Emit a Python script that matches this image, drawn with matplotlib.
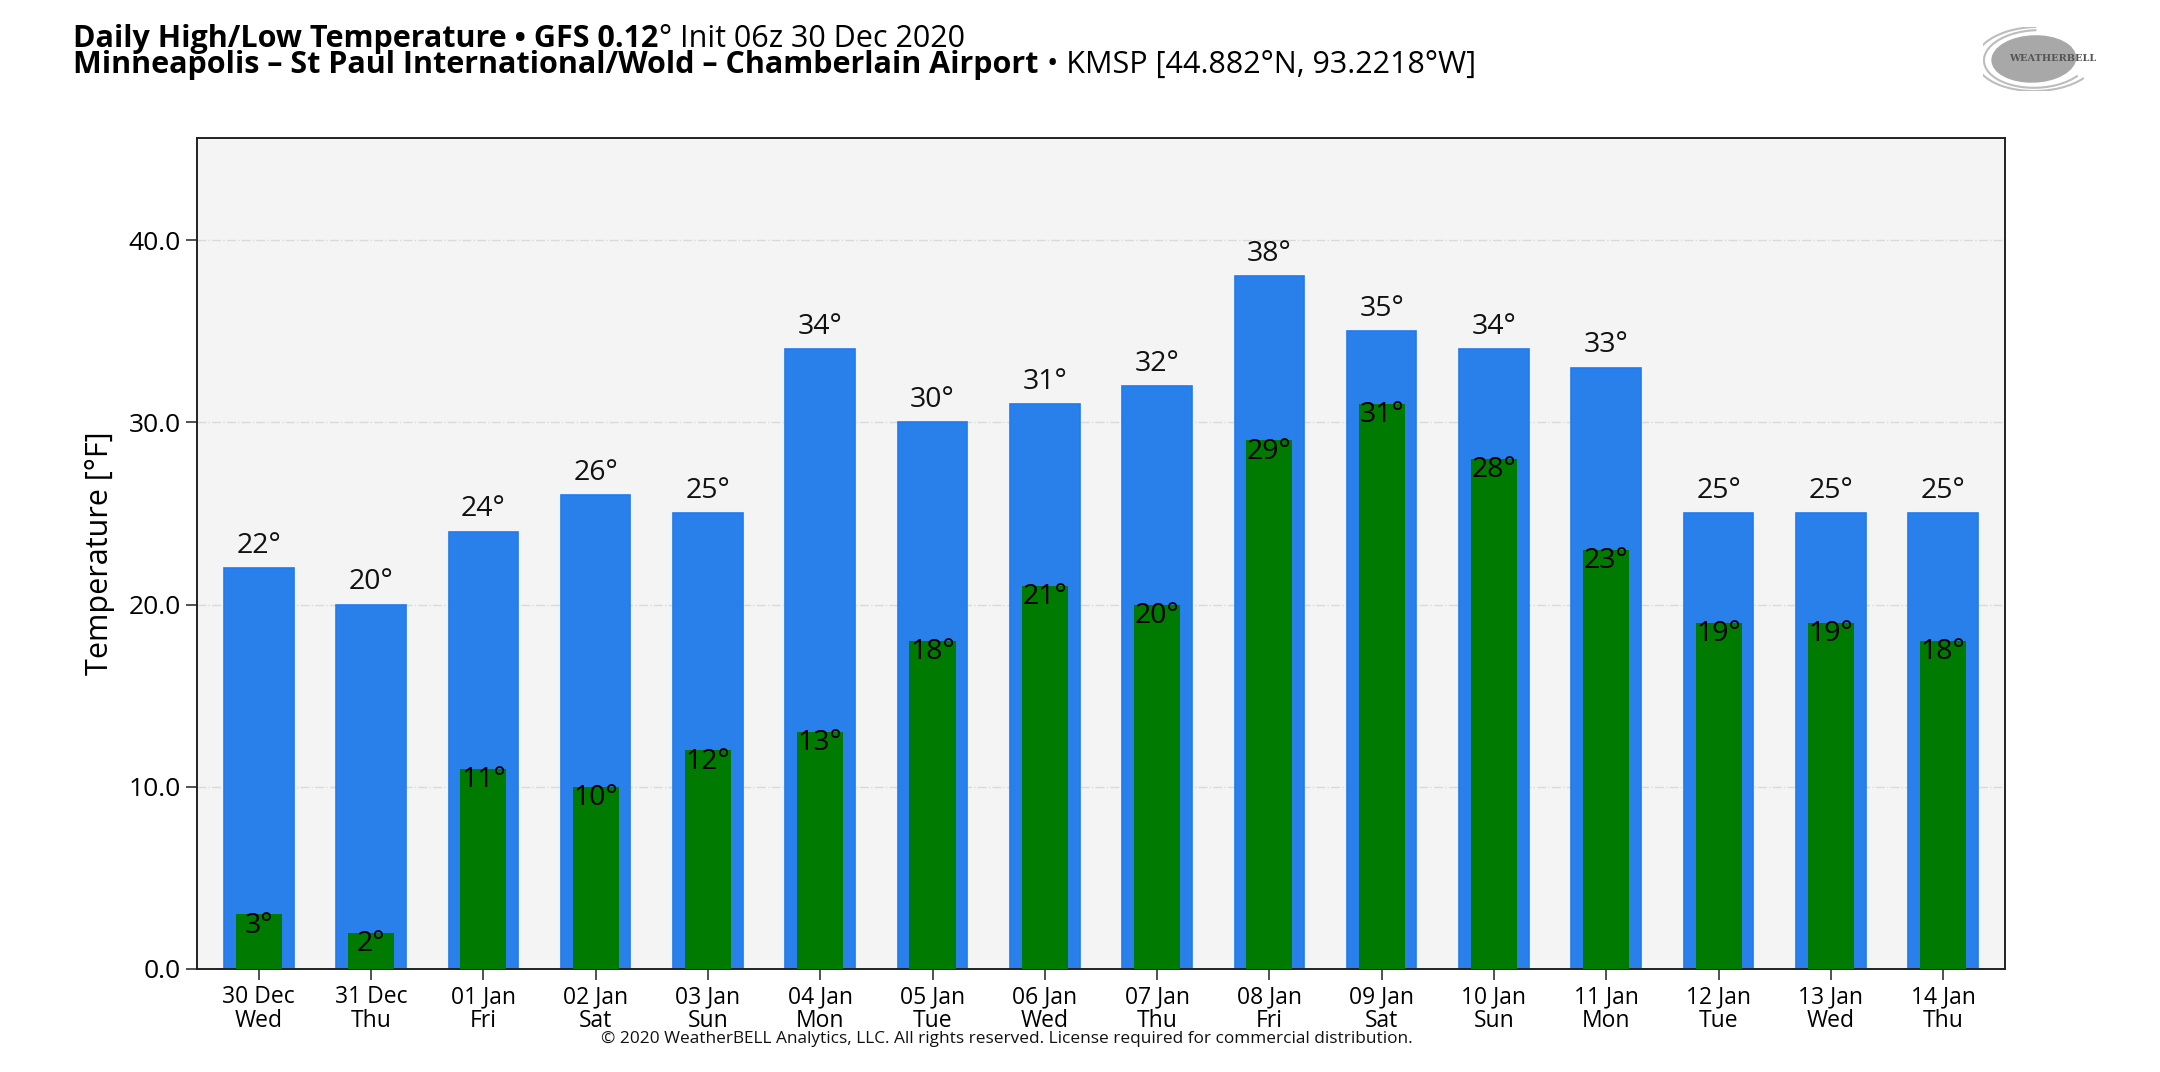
import numpy as np
import matplotlib.pyplot as plt
from matplotlib.patches import Ellipse, Arc

# Data
dates = ['30 Dec', '31 Dec', '01 Jan', '02 Jan', '03 Jan', '04 Jan', '05 Jan', '06 Jan',
         '07 Jan', '08 Jan', '09 Jan', '10 Jan', '11 Jan', '12 Jan', '13 Jan', '14 Jan']
weekdays = ['Wed', 'Thu', 'Fri', 'Sat', 'Sun', 'Mon', 'Tue', 'Wed',
            'Thu', 'Fri', 'Sat', 'Sun', 'Mon', 'Tue', 'Wed', 'Thu']
highs = [22, 20, 24, 26, 25, 34, 30, 31, 32, 38, 35, 34, 33, 25, 25, 25]
lows = [3, 2, 11, 10, 12, 13, 18, 21, 20, 29, 31, 28, 23, 19, 19, 18]
yticks = [0, 10, 20, 30, 40]

plt.rcParams['font.family'] = ['Open Sans', 'DejaVu Sans']

fig = plt.figure(figsize=(21.6, 10.72), dpi=100)
ax = fig.add_axes([0.0912, 0.0961, 0.8370, 0.7752])
ax.set_facecolor('#f4f4f4')

x = np.arange(len(dates))
ax.bar(x, highs, width=0.62, color='#2a80ea', edgecolor='#1f7af2', lw=1.2, zorder=2)
ax.bar(x, lows, width=0.41, color='#007a00', zorder=3)

for xi, h in zip(x, highs):
    ax.annotate(f'{h}°', (xi, h), xytext=(0, 11), textcoords='offset points',
                ha='center', va='baseline', fontsize=20.5, color='#111111')
for xi, lo in zip(x, lows):
    ax.annotate(f'{lo}°', (xi, lo), xytext=(0, 2), textcoords='offset points',
                ha='center', va='top', fontsize=20.5, color='black', zorder=4)

ax.set_xlim(-0.55, len(dates) - 0.45)
ax.set_ylim(0, max(highs) * 1.2)
ax.set_yticks(yticks)
ax.set_yticklabels([f'{v:.1f}' for v in yticks], fontsize=19)
ax.set_xticks(x)
ax.set_xticklabels([f'{d}\n{w}' for d, w in zip(dates, weekdays)],
                   fontsize=16.5, linespacing=1.0)
ax.tick_params(axis='both', direction='out', length=8, width=1.2, color='#333333')
ax.set_ylabel('Temperature [°F]', fontsize=22, labelpad=10)
ax.yaxis.grid(True, linestyle='-.', color='#dadada', lw=1.0)
ax.set_axisbelow(True)
for sp in ax.spines.values():
    sp.set_color('#222222')
    sp.set_linewidth(1.4)

# Title block: bold part followed by regular part on each line
renderer = fig.canvas.get_renderer()

def put_line(y, pieces, x0=0.034, size=22):
    xpos = x0
    for txt, wt in pieces:
        t = fig.text(xpos, y, txt, fontsize=size, weight=wt, va='baseline')
        bb = t.get_window_extent(renderer)
        xpos = fig.transFigure.inverted().transform((bb.x1, bb.y0))[0]

put_line(0.956, [('Daily High/Low Temperature • GFS 0.12', 'bold'),
                 ('° Init 06z 30 Dec 2020', 'normal')])
put_line(0.932, [('Minneapolis – St Paul International/Wold – Chamberlain Airport ', 'bold'),
                 ('• KMSP [44.882°N, 93.2218°W]', 'normal')])

fig.text(0.466, 0.027, '© 2020 WeatherBELL Analytics, LLC. All rights reserved. '
         'License required for commercial distribution.',
         fontsize=12.4, ha='center', va='baseline', color='#111111')

# Logo (rough grey swirl)
lax = fig.add_axes([0.918, 0.915, 0.062, 0.06])
lax.set_xlim(0, 1)
lax.set_ylim(0, 1)
lax.axis('off')
lax.add_patch(Ellipse((0.38, 0.5), 0.62, 0.72, angle=-10, color='#a8a8a8'))
for w, h in [(0.78, 0.9), (0.9, 1.0)]:
    lax.add_patch(Arc((0.4, 0.5), w, h, angle=-10, theta1=100, theta2=330,
                      color='#bdbdbd', lw=1.5))
lax.text(0.52, 0.5, 'WEATHERBELL', fontsize=7, weight='bold', color='#555555',
         ha='center', va='center', family='DejaVu Serif')

fig.savefig('out.png', dpi=100)
